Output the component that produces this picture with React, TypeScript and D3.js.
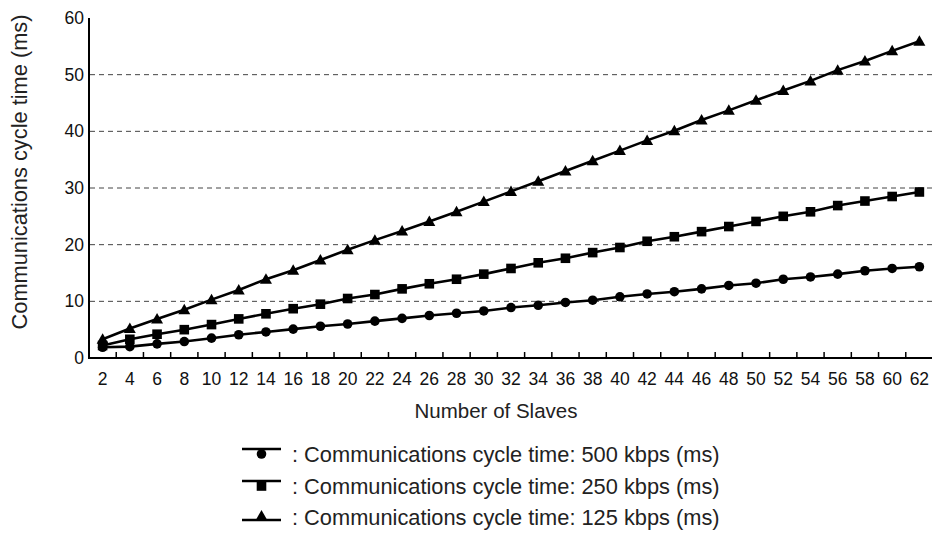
import React from "react";
import * as d3 from "d3";

const slaves = [2,4,6,8,10,12,14,16,18,20,22,24,26,28,30,32,34,36,38,40,42,44,46,48,50,52,54,56,58,60,62];
const kbps500 = [1.9,2.0,2.5,2.9,3.5,4.1,4.6,5.1,5.6,6.0,6.5,7.0,7.5,7.9,8.3,8.9,9.3,9.8,10.2,10.8,11.3,11.7,12.2,12.8,13.2,13.9,14.3,14.8,15.4,15.8,16.1];
const kbps250 = [2.2,3.3,4.2,5.0,5.9,6.9,7.8,8.7,9.5,10.5,11.2,12.2,13.1,13.9,14.8,15.8,16.8,17.6,18.6,19.5,20.6,21.4,22.3,23.2,24.1,25.0,25.8,26.9,27.7,28.5,29.3];
const kbps125 = [3.3,5.2,6.9,8.5,10.3,12.0,13.9,15.5,17.3,19.1,20.8,22.4,24.1,25.8,27.6,29.4,31.2,33.0,34.8,36.6,38.4,40.1,42.0,43.7,45.5,47.2,48.9,50.8,52.4,54.2,55.9];
const yTicks = [0,10,20,30,40,50,60];
const gridValues = [10,20,30,40,50];
const legendLabels = [
  ": Communications cycle time: 500 kbps (ms)",
  ": Communications cycle time: 250 kbps (ms)",
  ": Communications cycle time: 125 kbps (ms)",
];
const xTitle = "Number of Slaves";
const yTitle = "Communications cycle time (ms)";

const FONT = "'Liberation Sans', Arial, Helvetica, sans-serif";

function Marker({ kind, x, y }: { kind: string; x: number; y: number }) {
  if (kind === "circle") return <circle cx={x} cy={y} r={4.8} fill="#000" />;
  if (kind === "square") return <rect x={x - 4.8} y={y - 4.8} width={9.6} height={9.6} fill="#000" />;
  const s = 6;
  return <path d={`M${x},${y - s}L${x + s},${y + s * 0.75}L${x - s},${y + s * 0.75}Z`} fill="#000" />;
}

export default function App() {
  const W = 932, H = 537;
  const x = d3.scaleBand<number>().domain(slaves).range([89, 933]).paddingInner(0).paddingOuter(0);
  const y = d3.scaleLinear().domain([0, 60]).range([358, 18]);
  const cx = (d: number) => (x(d) as number) + x.bandwidth() / 2;
  const line = d3.line<number>().x((_, i) => cx(slaves[i])).y((v) => y(v));
  const series = [
    { values: kbps500, kind: "circle" },
    { values: kbps250, kind: "square" },
    { values: kbps125, kind: "triangle" },
  ];
  const legendRows = [454, 486, 517];
  return (
    <svg width={W} height={H} style={{ position: "absolute", left: 0, top: 0, background: "#fff" }} fontFamily={FONT}>
      <rect width={W} height={H} fill="#fff" />
      {gridValues.map((g) => (
        <line key={g} x1={90} x2={933} y1={y(g)} y2={y(g)} stroke="#444" strokeWidth={1} strokeDasharray="5,4" />
      ))}
      <line x1={89} x2={89} y1={y(60)} y2={y(0) + 1} stroke="#000" strokeWidth={2} />
      <line x1={88} x2={933} y1={y(0)} y2={y(0)} stroke="#000" strokeWidth={2} />
      {slaves.slice(1).map((s) => (
        <line key={s} x1={x(s) as number} x2={x(s) as number} y1={y(0)} y2={y(0) - 6} stroke="#000" strokeWidth={1.5} />
      ))}
      {yTicks.map((t) => (
        <text key={t} x={84} y={y(t)} dy="0.35em" textAnchor="end" fontSize={17.5} fill="#111">{t}</text>
      ))}
      {slaves.map((s) => (
        <text key={s} x={cx(s)} y={379} dy="0.35em" textAnchor="middle" fontSize={17.5} fill="#111">{s}</text>
      ))}
      <text x={496} y={411} dy="0.35em" textAnchor="middle" fontSize={20.5} fill="#222">{xTitle}</text>
      <text transform={`translate(19,172) rotate(-90)`} dy="0.35em" textAnchor="middle" fontSize={21.8} fill="#222">{yTitle}</text>
      {series.map((sr, k) => (
        <g key={k}>
          <path d={line(sr.values) || ""} fill="none" stroke="#000" strokeWidth={2.6} />
          {sr.values.map((v, i) => (
            <Marker key={i} kind={sr.kind} x={cx(slaves[i])} y={y(v)} />
          ))}
        </g>
      ))}
      {series.map((sr, k) => {
        const ry = legendRows[k];
        const ly = sr.kind === "triangle" ? ry + 3 : ry - 5;
        const my = sr.kind === "triangle" ? ry - 1 : ry;
        return (
          <g key={k}>
            <line x1={242} x2={281} y1={ly} y2={ly} stroke="#000" strokeWidth={2.4} />
            <Marker kind={sr.kind} x={261.5} y={my} />
            <text x={292} y={ry} dy="0.35em" fontSize={21.8} fill="#222">{legendLabels[k]}</text>
          </g>
        );
      })}
    </svg>
  );
}
